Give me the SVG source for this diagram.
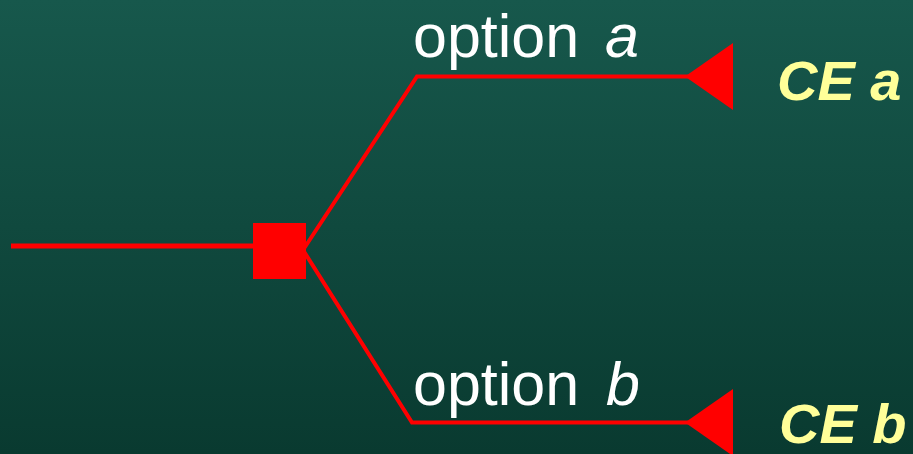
<svg xmlns="http://www.w3.org/2000/svg" width="913" height="454" viewBox="0 0 913 454">
<defs>
<linearGradient id="bg" x1="0" y1="0" x2="0" y2="1">
<stop offset="0" stop-color="#17584c"/>
<stop offset="1" stop-color="#093a30"/>
</linearGradient>
<style>
.ln{fill:none;stroke:#ff0000;stroke-linejoin:miter}
.opt{font-family:"Liberation Sans",Arial,sans-serif;font-size:61px;fill:#ffffff}
.ce{font-family:"Liberation Sans",Arial,sans-serif;font-size:56px;font-weight:bold;font-style:italic;fill:#ffff99}
.red{fill:#ff0000}
</style>
</defs>
<rect width="913" height="454" fill="url(#bg)"/>
<g id="connectors">
<line class="ln" x1="11" y1="246" x2="256" y2="246" stroke-width="5"/>
<polyline class="ln" points="303,250 417,76.5 688,76.5" stroke-width="4"/>
<polyline class="ln" points="303,250 412,422.5 688,422.5" stroke-width="4"/>
</g>
<g id="decision">
<rect class="red" x="253" y="223" width="53" height="56"/>
</g>
<g id="terminal-a">
<polygon class="red" points="685,76.5 733,43 733,110"/>
<text class="ce" x="777" y="100">CE a</text>
</g>
<g id="terminal-b">
<polygon class="red" points="685,422.5 733,389 733,456"/>
<text class="ce" x="779" y="443">CE b</text>
</g>
<g id="label-a">
<text class="opt" x="413" y="57">option<tspan x="605" font-style="italic">a</tspan></text>
</g>
<g id="label-b">
<text class="opt" x="413" y="405">option<tspan x="606" font-style="italic">b</tspan></text>
</g>
</svg>
